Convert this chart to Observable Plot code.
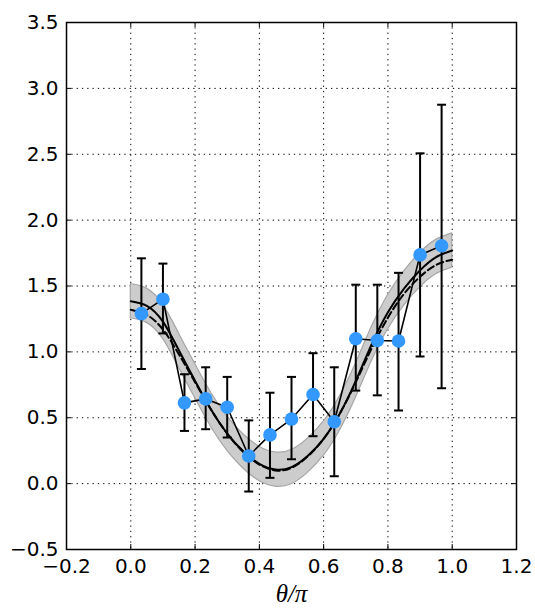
<!DOCTYPE html>
<html>
<head>
<meta charset="utf-8">
<script src="https://cdn.jsdelivr.net/npm/d3@7"></script>
<script src="https://cdn.jsdelivr.net/npm/@observablehq/plot@0.6"></script>
<style>
  html, body { margin: 0; padding: 0; background: #fff; }
  svg { display: block; }
</style>
</head>
<body>
<script>
// Measured samples: angle (in units of pi), mean value and error-bar limits
const obsX  = [0.033, 0.1, 0.167, 0.233, 0.3, 0.367, 0.433, 0.5, 0.567, 0.633, 0.7, 0.767, 0.833, 0.9, 0.967];
const obsY  = [1.29, 1.40, 0.613, 0.643, 0.58, 0.21, 0.37, 0.49, 0.676, 0.47, 1.10, 1.086, 1.083, 1.736, 1.806];
const obsLo = [0.87, 1.14, 0.40, 0.413, 0.35, -0.06, 0.044, 0.185, 0.36, 0.056, 0.706, 0.67, 0.555, 0.965, 0.724];
const obsHi = [1.71, 1.67, 0.83, 0.883, 0.81, 0.48, 0.69, 0.81, 0.99, 0.883, 1.51, 1.51, 1.60, 2.507, 2.876];

// Smooth curves sampled along the angle: fitted curve, its band, and the reference curve
const curveX = [0, 0.05, 0.1, 0.15, 0.2, 0.25, 0.3, 0.35, 0.4, 0.45, 0.5, 0.55, 0.6, 0.65, 0.7, 0.75, 0.8, 0.85, 0.9, 0.95, 1.0];
const fitY   = [1.385, 1.35, 1.23, 1.01, 0.78, 0.56, 0.38, 0.245, 0.15, 0.107, 0.125, 0.21, 0.34, 0.53, 0.78, 1.06, 1.30, 1.48, 1.62, 1.72, 1.77];
const bandHi = [1.515, 1.48, 1.36, 1.14, 0.91, 0.69, 0.51, 0.375, 0.28, 0.237, 0.255, 0.34, 0.47, 0.66, 0.91, 1.19, 1.43, 1.61, 1.75, 1.85, 1.90];
const bandLo = [1.255, 1.22, 1.10, 0.88, 0.65, 0.43, 0.25, 0.115, 0.02, -0.023, -0.005, 0.08, 0.21, 0.40, 0.65, 0.93, 1.17, 1.35, 1.49, 1.59, 1.64];
const refY   = [1.32, 1.28, 1.17, 0.98, 0.77, 0.56, 0.38, 0.24, 0.145, 0.10, 0.12, 0.205, 0.34, 0.53, 0.77, 1.03, 1.26, 1.44, 1.57, 1.66, 1.70];

// Axis ticks
const xTicks = [-0.2, 0.0, 0.2, 0.4, 0.6, 0.8, 1.0, 1.2];
const yTicks = [-0.5, 0.0, 0.5, 1.0, 1.5, 2.0, 2.5, 3.0, 3.5];
const xLabel = "θ/π";

const obs = obsX.map((x, i) => ({x, y: obsY[i], lo: obsLo[i], hi: obsHi[i]}));
const curve = curveX.map((x, i) => ({x, fit: fitY[i], hi: bandHi[i], lo: bandLo[i], ref: refY[i]}));

const W = 535, H = 609;
const mL = 66, mR = 19, mT = 22, mB = 60;
const plotW = W - mL - mR, plotH = H - mT - mB;
const tickLen = 5;

// horizontal cap drawn at the end of each error bar
const cap = {
  draw(ctx, size) {
    const w = Math.sqrt(size / Math.PI);
    ctx.moveTo(-w, 0);
    ctx.lineTo(w, 0);
  }
};

const fmt = d3.format(".1f");

const chart = Plot.plot({
  width: W,
  height: H,
  marginLeft: mL,
  marginRight: mR,
  marginTop: mT,
  marginBottom: mB,
  style: {fontFamily: "'DejaVu Sans', sans-serif", fontSize: "20px", color: "black", background: "white"},
  x: {domain: [-0.2, 1.2], ticks: xTicks, tickFormat: fmt},
  y: {domain: [-0.5, 3.5], ticks: yTicks, tickFormat: fmt},
  marks: [
    // dotted grid
    Plot.gridX(xTicks, {stroke: "black", strokeOpacity: 1, strokeWidth: 1, strokeDasharray: "1.3,4"}),
    Plot.gridY(yTicks, {stroke: "black", strokeOpacity: 1, strokeWidth: 1, strokeDasharray: "1.3,4"}),
    // uncertainty band around the fitted curve
    Plot.areaY(curve, {x: "x", y1: "lo", y2: "hi", curve: "natural", fill: "#cccccc", stroke: "#a6a6a6", strokeWidth: 1.2}),
    // fitted curve and reference curve
    Plot.line(curve, {x: "x", y: "fit", curve: "natural", stroke: "black", strokeWidth: 2}),
    Plot.line(curve, {x: "x", y: "ref", curve: "natural", stroke: "black", strokeWidth: 2, strokeDasharray: "7,3.5"}),
    // measurements joined in order
    Plot.line(obs, {x: "x", y: "y", stroke: "black", strokeWidth: 1.6}),
    // error bars
    Plot.ruleX(obs, {x: "x", y1: "lo", y2: "hi", stroke: "black", strokeWidth: 2}),
    Plot.dot(obs, {x: "x", y: "lo", symbol: cap, r: 4.5, stroke: "black", strokeWidth: 2, fill: "none"}),
    Plot.dot(obs, {x: "x", y: "hi", symbol: cap, r: 4.5, stroke: "black", strokeWidth: 2, fill: "none"}),
    // measurement markers
    Plot.dot(obs, {x: "x", y: "y", r: 6.8, fill: "#3399ff", stroke: "none"}),
    // inward ticks on all four sides
    Plot.tickY(yTicks, {y: d => d, insetRight: plotW - tickLen, stroke: "black", strokeWidth: 1}),
    Plot.tickY(yTicks, {y: d => d, insetLeft: plotW - tickLen, stroke: "black", strokeWidth: 1}),
    Plot.tickX(xTicks, {x: d => d, insetTop: plotH - tickLen, stroke: "black", strokeWidth: 1}),
    Plot.tickX(xTicks, {x: d => d, insetBottom: plotH - tickLen, stroke: "black", strokeWidth: 1}),
    Plot.frame({stroke: "black", strokeWidth: 1.5}),
    Plot.axisX(xTicks, {tickSize: 0, tickPadding: 9, label: null, fontSize: 20}),
    Plot.axisY(yTicks, {tickSize: 0, tickPadding: 8, label: null, fontSize: 20}),
    // axis title
    Plot.text([xLabel], {frameAnchor: "bottom", dy: 52, text: d => d, fontFamily: "'Liberation Serif', 'DejaVu Serif', serif", fontStyle: "italic", fontSize: 25, fill: "black"})
  ]
});

document.body.appendChild(chart);
</script>
</body>
</html>
